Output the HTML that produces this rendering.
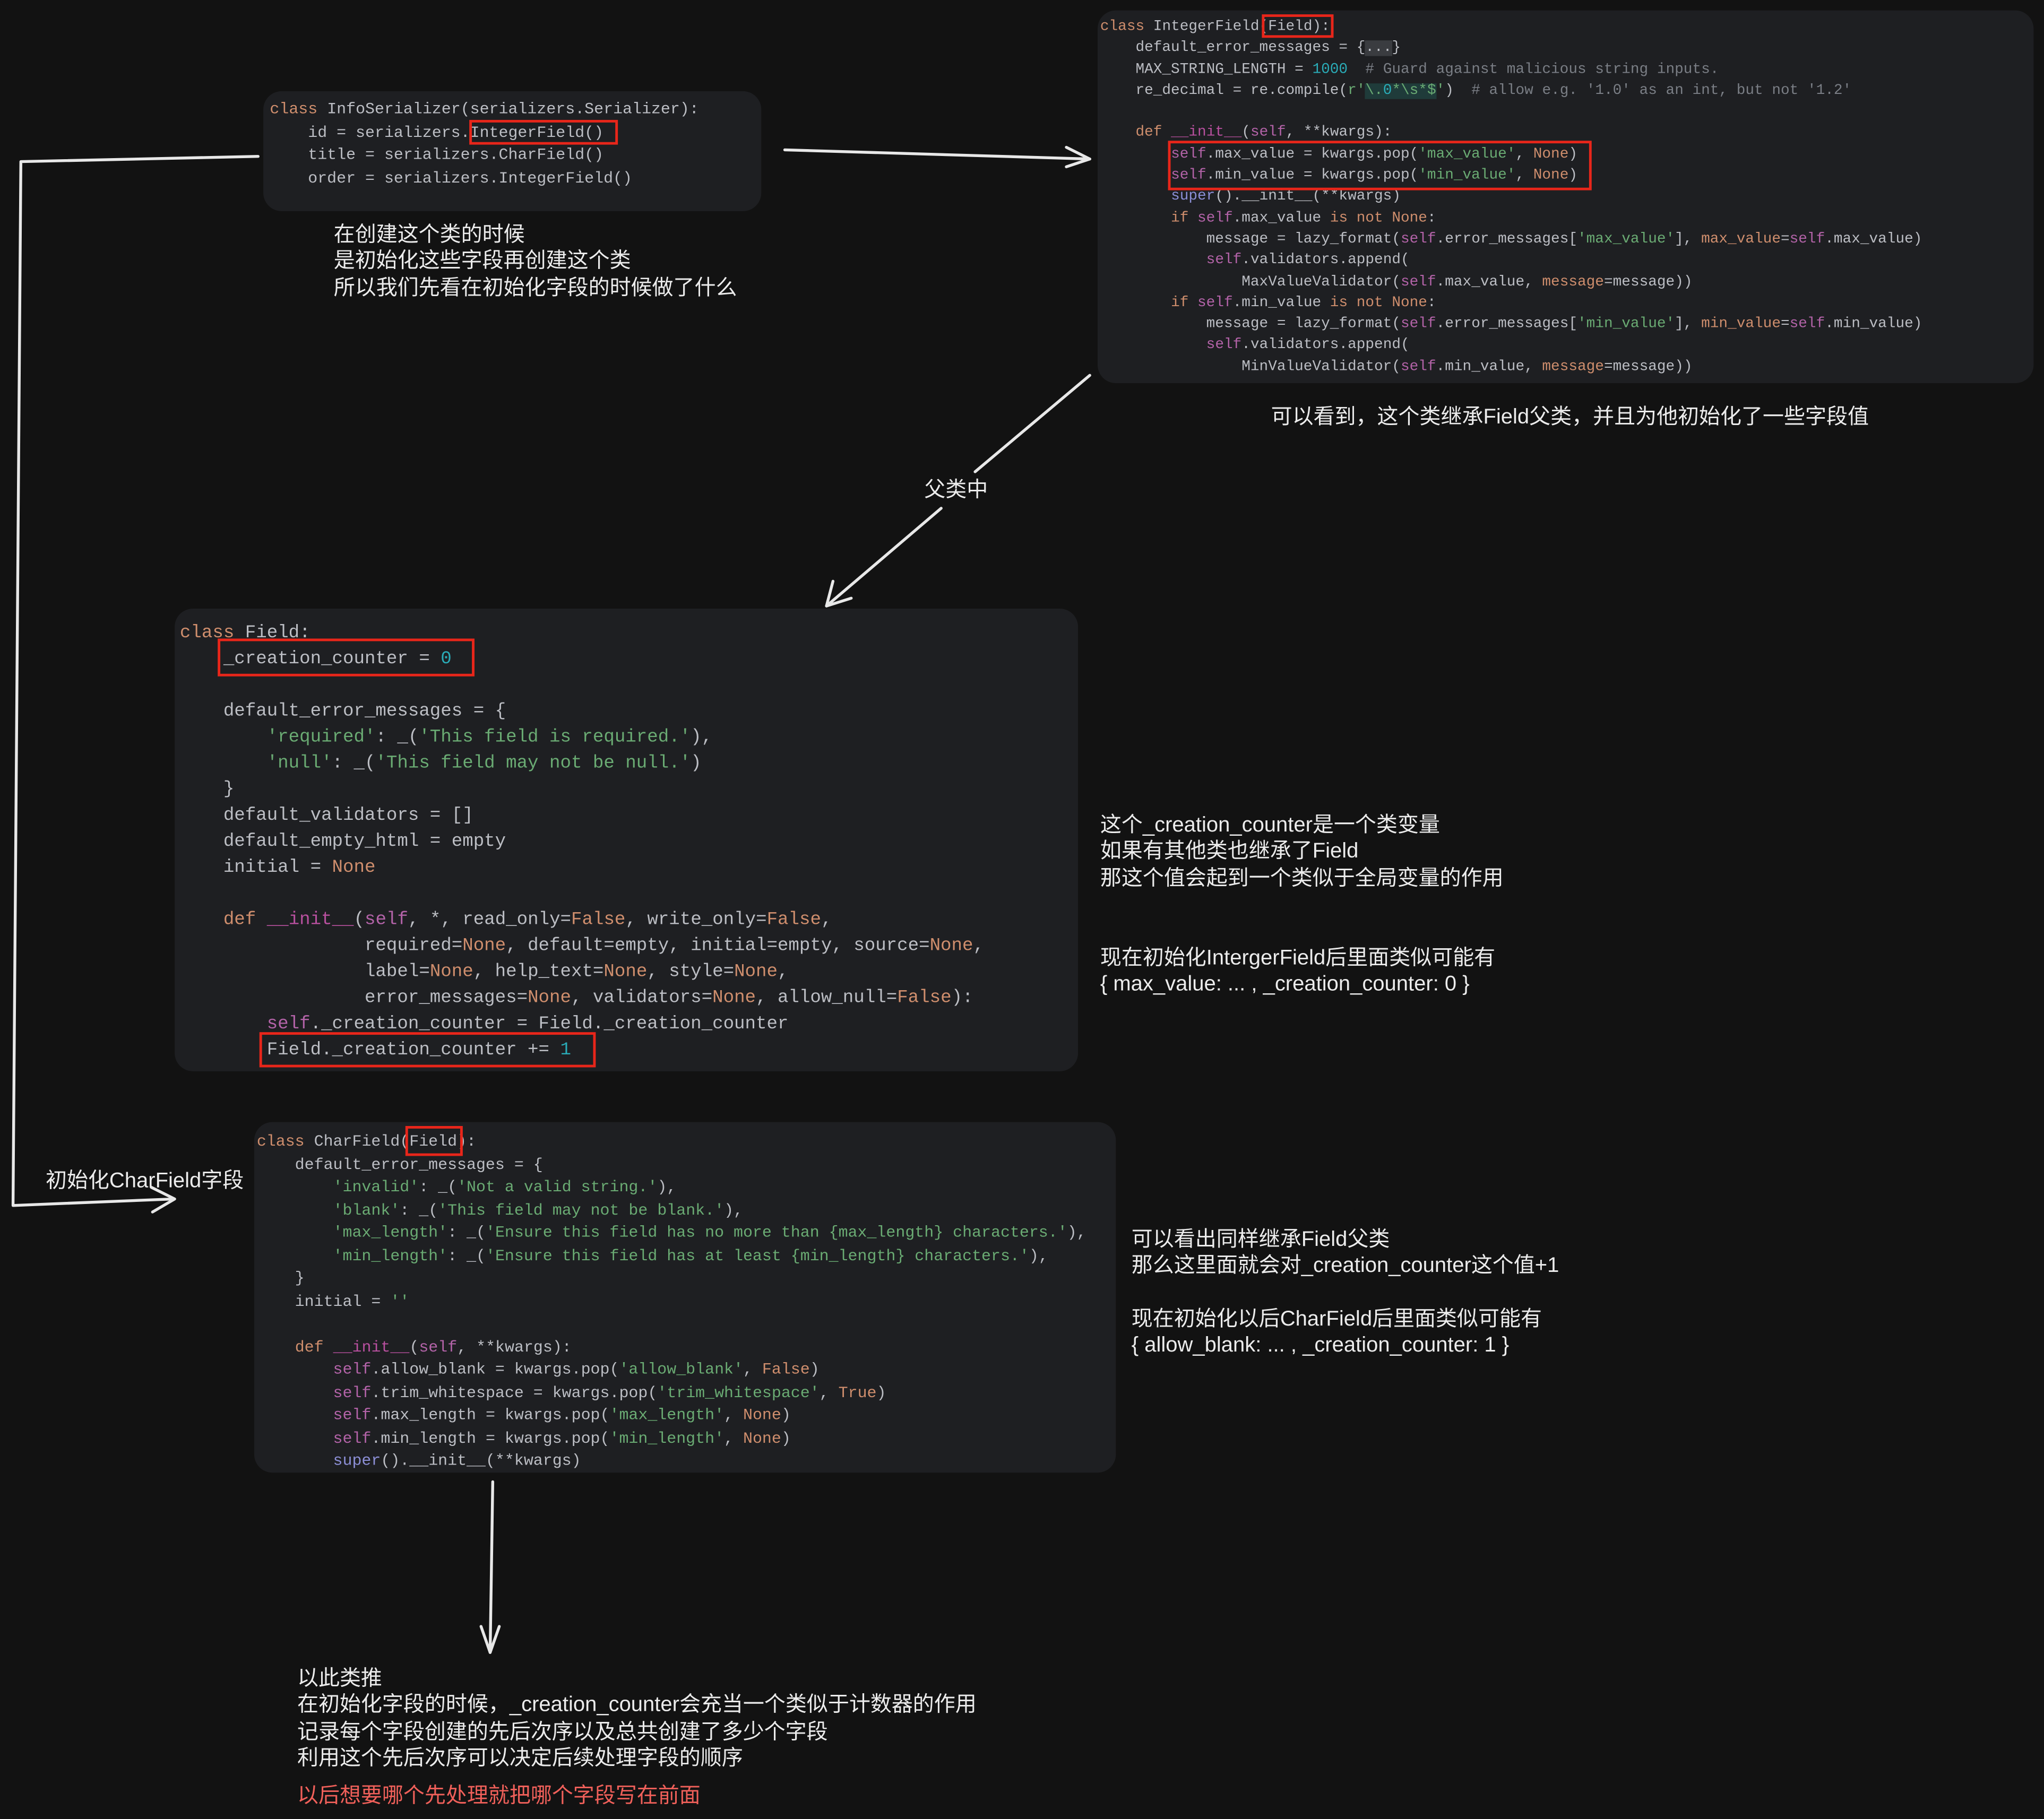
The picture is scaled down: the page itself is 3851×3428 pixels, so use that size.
<!DOCTYPE html>
<html><head><meta charset="utf-8">
<style>
html,body{margin:0;padding:0;background:#121212;}
#wrap{width:3851px;height:3428px;overflow:hidden;position:relative;background:#121212;}
#s{position:absolute;left:0;top:0;width:1568px;height:1396px;transform:scale(2.456);transform-origin:0 0;}
.p{position:absolute;background:#1e1f22;border-radius:14px;}
pre{position:absolute;margin:0;font-family:"Liberation Mono",monospace;color:#bcbec4;white-space:pre;}
.k{color:#cf8e6d}.s{color:#6aab73}.n{color:#2aacb8}.f{color:#b363a8}.c{color:#7a7e85}.u{color:#8c8fd6}.m{color:#b8509f}
.r{position:absolute;border:2px solid #e8261a;box-sizing:border-box;}
.t{position:absolute;font-family:"Liberation Sans","Noto Sans CJK SC",sans-serif;color:#ececec;font-size:16.3px;line-height:20.3px;white-space:pre;}
</style></head><body><div id="wrap"><div id="s">
<div class="p" style="left:202px;top:70px;width:382px;height:92px"></div>
<div class="p" style="left:842px;top:8px;width:718px;height:286px"></div>
<div class="p" style="left:134px;top:467px;width:693px;height:355px"></div>
<div class="p" style="left:195px;top:861px;width:661px;height:269px"></div>

<pre style="left:207px;top:76px;font-size:12.2px;line-height:17.7px"><span class="k">class</span> InfoSerializer(serializers.Serializer):
    id = serializers.IntegerField()
    title = serializers.CharField()
    order = serializers.IntegerField()</pre>

<pre style="left:844px;top:13px;font-size:11.3px;line-height:16.3px"><span class="k">class</span> IntegerField(Field):
    default_error_messages = {<span style="background:#3a3c40">...</span>}
    MAX_STRING_LENGTH = <span class="n">1000</span>  <span class="c"># Guard against malicious string inputs.</span>
    re_decimal = re.compile(<span class="s">r'</span><span style="background:#1f3b3a"><span class="s">\.</span><span class="n">0</span><span class="s">*\s*$</span></span><span class="s">'</span>)  <span class="c"># allow e.g. '1.0' as an int, but not '1.2'</span>

    <span class="k">def</span> <span class="m">__init__</span>(<span class="f">self</span>, **kwargs):
        <span class="f">self</span>.max_value = kwargs.pop(<span class="s">'max_value'</span>, <span class="k">None</span>)
        <span class="f">self</span>.min_value = kwargs.pop(<span class="s">'min_value'</span>, <span class="k">None</span>)
        <span class="u">super</span>().__init__(**kwargs)
        <span class="k">if</span> <span class="f">self</span>.max_value <span class="k">is not None</span>:
            message = lazy_format(<span class="f">self</span>.error_messages[<span class="s">'max_value'</span>], <span class="k">max_value</span>=<span class="f">self</span>.max_value)
            <span class="f">self</span>.validators.append(
                MaxValueValidator(<span class="f">self</span>.max_value, <span class="k">message</span>=message))
        <span class="k">if</span> <span class="f">self</span>.min_value <span class="k">is not None</span>:
            message = lazy_format(<span class="f">self</span>.error_messages[<span class="s">'min_value'</span>], <span class="k">min_value</span>=<span class="f">self</span>.min_value)
            <span class="f">self</span>.validators.append(
                MinValueValidator(<span class="f">self</span>.min_value, <span class="k">message</span>=message))</pre>

<pre style="left:138px;top:476px;font-size:13.9px;line-height:20px"><span class="k">class</span> Field:
    _creation_counter = <span class="n">0</span>

    default_error_messages = {
        <span class="s">'required'</span>: _(<span class="s">'This field is required.'</span>),
        <span class="s">'null'</span>: _(<span class="s">'This field may not be null.'</span>)
    }
    default_validators = []
    default_empty_html = empty
    initial = <span class="k">None</span>

    <span class="k">def</span> <span class="m">__init__</span>(<span class="f">self</span>, *, read_only=<span class="k">False</span>, write_only=<span class="k">False</span>,
                 required=<span class="k">None</span>, default=empty, initial=empty, source=<span class="k">None</span>,
                 label=<span class="k">None</span>, help_text=<span class="k">None</span>, style=<span class="k">None</span>,
                 error_messages=<span class="k">None</span>, validators=<span class="k">None</span>, allow_null=<span class="k">False</span>):
        <span class="f">self</span>._creation_counter = Field._creation_counter
        Field._creation_counter += <span class="n">1</span></pre>

<pre style="left:197px;top:868px;font-size:12.2px;line-height:17.5px"><span class="k">class</span> CharField(Field):
    default_error_messages = {
        <span class="s">'invalid'</span>: _(<span class="s">'Not a valid string.'</span>),
        <span class="s">'blank'</span>: _(<span class="s">'This field may not be blank.'</span>),
        <span class="s">'max_length'</span>: _(<span class="s">'Ensure this field has no more than {max_length} characters.'</span>),
        <span class="s">'min_length'</span>: _(<span class="s">'Ensure this field has at least {min_length} characters.'</span>),
    }
    initial = <span class="s">''</span>

    <span class="k">def</span> <span class="m">__init__</span>(<span class="f">self</span>, **kwargs):
        <span class="f">self</span>.allow_blank = kwargs.pop(<span class="s">'allow_blank'</span>, <span class="k">False</span>)
        <span class="f">self</span>.trim_whitespace = kwargs.pop(<span class="s">'trim_whitespace'</span>, <span class="k">True</span>)
        <span class="f">self</span>.max_length = kwargs.pop(<span class="s">'max_length'</span>, <span class="k">None</span>)
        <span class="f">self</span>.min_length = kwargs.pop(<span class="s">'min_length'</span>, <span class="k">None</span>)
        <span class="u">super</span>().__init__(**kwargs)</pre>

<div class="r" style="left:360px;top:92px;width:114px;height:19px"></div>
<div class="r" style="left:968px;top:11px;width:55px;height:18px"></div>
<div class="r" style="left:896px;top:108px;width:325px;height:38px"></div>
<div class="r" style="left:167px;top:490px;width:197px;height:29px"></div>
<div class="r" style="left:199px;top:792px;width:258px;height:27px"></div>
<div class="r" style="left:311px;top:864px;width:44px;height:23px"></div>

<div class="t" style="left:256px;top:170px">在创建这个类的时候
是初始化这些字段再创建这个类
所以我们先看在初始化字段的时候做了什么</div>
<div class="t" style="left:975px;top:310px">可以看到，这个类继承Field父类，并且为他初始化了一些字段值</div>
<div class="t" style="left:709px;top:366px">父类中</div>
<div class="t" style="left:844px;top:623px">这个_creation_counter是一个类变量
如果有其他类也继承了Field
那这个值会起到一个类似于全局变量的作用</div>
<div class="t" style="left:844px;top:725px">现在初始化IntergerField后里面类似可能有
{ max_value: ... , _creation_counter: 0 }</div>
<div class="t" style="left:35px;top:896px">初始化CharField字段</div>
<div class="t" style="left:868px;top:941px">可以看出同样继承Field父类
那么这里面就会对_creation_counter这个值+1

现在初始化以后CharField后里面类似可能有
{ allow_blank: ... , _creation_counter: 1 }</div>
<div class="t" style="left:228px;top:1278px">以此类推
在初始化字段的时候，_creation_counter会充当一个类似于计数器的作用
记录每个字段创建的先后次序以及总共创建了多少个字段
利用这个先后次序可以决定后续处理字段的顺序</div>
<div class="t" style="left:228px;top:1368px;color:#f0605a">以后想要哪个先处理就把哪个字段写在前面</div>

<svg style="position:absolute;left:0;top:0" width="1568" height="1396" fill="none" stroke="#e8e8e8" stroke-width="2.2" stroke-linecap="round" stroke-linejoin="round">
<path d="M198 120 L16 124 L10 925 L133 920"/>
<path d="M116 911 L134 920 L117 930"/>
<path d="M602 115 L836 122"/>
<path d="M818 113 L836 122 L818 128"/>
<path d="M836 288 L748 362"/>
<path d="M722 390 L634 465"/>
<path d="M639 446 L634 465 L653 459"/>
<path d="M378 1137 L376 1268"/>
<path d="M369 1248 L376 1268 L383 1248"/>
</svg>
</div></div></body></html>
